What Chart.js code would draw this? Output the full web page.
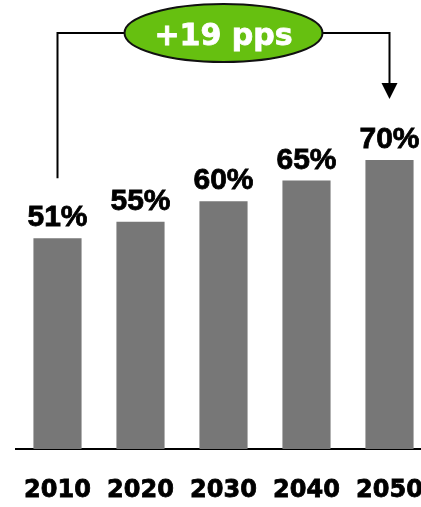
<!DOCTYPE html>
<html>
<head>
<meta charset="utf-8">
<script src="https://cdn.jsdelivr.net/npm/chart.js@4"></script>
<style>
  html, body { margin: 0; padding: 0; background: #fff; overflow: hidden; }
  #shareChart { position: absolute; left: 0; top: 0; }
</style>
</head>
<body>
<canvas id="shareChart" width="440" height="507"></canvas>
<script>
const years = ["2010", "2020", "2030", "2040", "2050"];
const shares = [51, 55, 60, 65, 70];
const changeLabel = "+19 pps";

// value labels above each bar
const valueLabels = {
  id: "valueLabels",
  afterDatasetsDraw(chart) {
    const ctx = chart.ctx;
    const meta = chart.getDatasetMeta(0);
    ctx.save();
    ctx.font = "bold 30px 'Liberation Sans', Arial, sans-serif";
    ctx.fillStyle = "#000";
    ctx.strokeStyle = "#000";
    ctx.lineWidth = 0.8;
    ctx.textAlign = "center";
    ctx.textBaseline = "alphabetic";
    meta.data.forEach((bar, i) => {
      const txt = shares[i] + "%";
      ctx.fillText(txt, bar.x, bar.y - 12);
      ctx.strokeText(txt, bar.x, bar.y - 12);
    });
    ctx.restore();
  }
};

// bracket with green ellipse and arrow
const changeBracket = {
  id: "changeBracket",
  afterDraw(chart) {
    const ctx = chart.ctx;
    const meta = chart.getDatasetMeta(0);
    const first = meta.data[0];
    const last = meta.data[meta.data.length - 1];
    const topY = 33;
    const cx = (first.x + last.x) / 2;
    const rx = 99, ry = 29;

    ctx.save();
    ctx.strokeStyle = "#000";
    ctx.lineWidth = 2;
    ctx.beginPath();
    ctx.moveTo(first.x, first.y - 60);
    ctx.lineTo(first.x, topY);
    ctx.lineTo(cx - rx, topY);
    ctx.moveTo(cx + rx, topY);
    ctx.lineTo(last.x, topY);
    ctx.lineTo(last.x, last.y - 76);
    ctx.stroke();

    // arrow head
    const tip = last.y - 61;
    ctx.fillStyle = "#000";
    ctx.beginPath();
    ctx.moveTo(last.x, tip);
    ctx.lineTo(last.x - 8, tip - 16);
    ctx.lineTo(last.x + 8, tip - 16);
    ctx.closePath();
    ctx.fill();

    ctx.beginPath();
    ctx.ellipse(cx, topY, rx, ry, 0, 0, Math.PI * 2);
    ctx.fillStyle = "#66c010";
    ctx.fill();
    ctx.lineWidth = 2;
    ctx.strokeStyle = "#111";
    ctx.stroke();

    ctx.fillStyle = "#fff";
    ctx.strokeStyle = "#fff";
    ctx.lineWidth = 0.8;
    ctx.font = "bold 30px 'DejaVu Sans', sans-serif";
    ctx.textAlign = "center";
    ctx.textBaseline = "alphabetic";
    ctx.fillText(changeLabel, cx, topY + 12);
    ctx.strokeText(changeLabel, cx, topY + 12);
    ctx.restore();
  }
};

new Chart(document.getElementById("shareChart"), {
  type: "bar",
  data: {
    labels: years,
    datasets: [{
      data: shares,
      backgroundColor: "#777777",
      borderWidth: 0,
      barPercentage: 0.58,
      categoryPercentage: 1
    }]
  },
  options: {
    responsive: false,
    animation: false,
    layout: { padding: { left: 16, right: 9, top: 36, bottom: 0 } },
    plugins: { legend: { display: false }, tooltip: { enabled: false } },
    scales: {
      x: {
        grid: { display: false, drawTicks: true, tickLength: 30 },
        border: { display: true, color: "#000", width: 2 },
        ticks: {
          color: "#000",
          padding: 0,
          textStrokeColor: "#000",
          textStrokeWidth: 0.8,
          font: { family: "'DejaVu Sans', sans-serif", size: 24, weight: "bold", lineHeight: 1 }
        },
        afterFit(scale) { scale.height = 58; }
      },
      y: { display: false, min: 0, max: 100 }
    }
  },
  plugins: [valueLabels, changeBracket]
});
</script>
</body>
</html>
